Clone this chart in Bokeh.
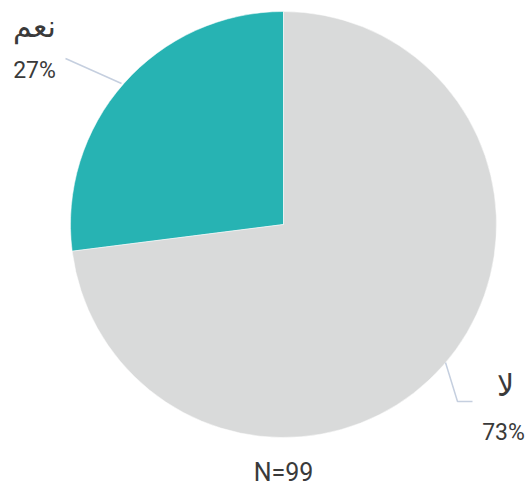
import math
from bokeh.plotting import figure
from bokeh.models import Range1d, ColumnDataSource
from bokeh.core.properties import value
from bokeh.embed import file_html
from bokeh.resources import INLINE

# ---- data ----
categories = ["نعم", "لا"]
values = [27, 73]
colors = ["#27b3b3", "#d9dada"]
n_label = "N=99"

W, H = 526, 492
p = figure(width=W, height=H, output_backend="svg", toolbar_location=None,
           x_range=Range1d(0, W), y_range=Range1d(0, H), min_border=0)
p.axis.visible = False
p.grid.visible = False
p.outline_line_color = None
p.background_fill_color = "white"

cx, cy, r = 283, 268, 213
total = sum(values)
starts, ends = [], []
a = math.pi / 2
for v in values:
    starts.append(a)
    a += 2 * math.pi * v / total
    ends.append(a)

src = ColumnDataSource(dict(start=starts, end=ends, color=colors, cat=categories))
p.wedge(x=cx, y=cy, radius=r, radius_units="screen", start_angle="start", end_angle="end",
        fill_color="color", line_color="white", line_width=0.5, source=src)

# leader lines
lc = "#c5cfdf"
p.line([65, 121], [434, 409], line_color=lc, line_width=1.5)
p.line([445, 457, 472], [130, 91, 91], line_color=lc, line_width=1.5)

pct = [f"{v}%" for v in values]
num_font = value("Roboto")
ar_font = value("DejaVu Sans")
tc = "#3a3a3a"
# category labels
p.text(x=[34, 505], y=[466, 107], text=categories, text_font=ar_font, text_font_size="30px",
       text_align="center", text_baseline="middle", text_color=tc, text_font_style="normal")
p.text(x=[34, 503], y=[422, 60], text=pct, text_font=num_font, text_font_size="23px",
       text_align="center", text_baseline="middle", text_color=tc)
p.text(x=[283], y=[20], text=[n_label], text_font=num_font, text_font_size="25px",
       text_align="center", text_baseline="middle", text_color=tc)

open("out.html", "w").write(file_html(p, INLINE))
